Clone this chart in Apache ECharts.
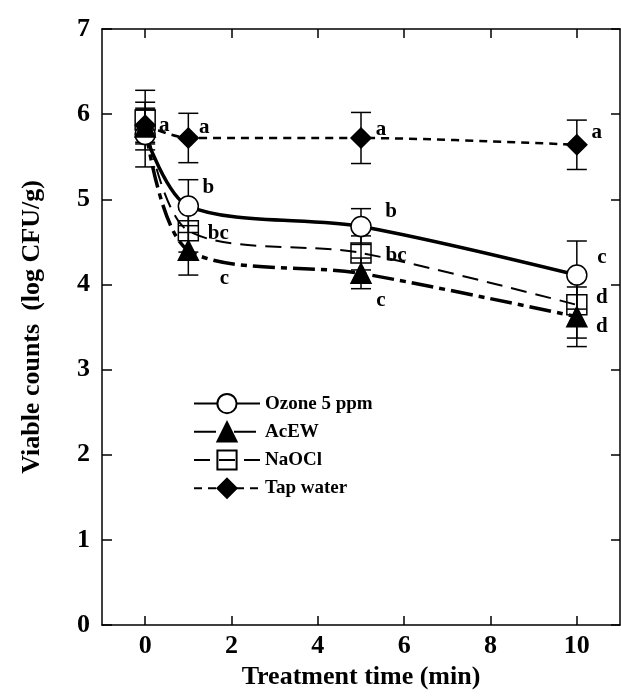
<!DOCTYPE html>
<html>
<head>
<meta charset="utf-8">
<script src="https://cdn.jsdelivr.net/npm/echarts@6/dist/echarts.min.js"></script>
<style>
html, body { margin: 0; padding: 0; background: #fff; }
#chart { width: 621px; height: 697px; }
</style>
</head>
<body>
<div id="chart"></div>
<script>
// treatment time (min) and axis ticks
const times = [0, 1, 5, 10]
const xTicks = [0, 2, 4, 6, 8, 10]
const yTicks = [0, 1, 2, 3, 4, 5, 6, 7]

// viable counts (log CFU/g), error bars, letters
const ozone = [5.76, 4.92, 4.68, 4.11]
const ozoneErr = [0.38, 0.31, 0.21, 0.40]
const ozoneLetters = ['', 'b', 'b', 'c']

const acew = [5.85, 4.40, 4.13, 3.62]
const acewErr = [0.20, 0.29, 0.18, 0.35]
const acewLetters = ['', 'c', 'c', 'd']

const naocl = [5.93, 4.63, 4.37, 3.76]
const naoclErr = [0.35, 0.25, 0.20, 0.39]
const naoclLetters = ['', 'bc', 'bc', 'd']

const tap = [5.87, 5.72, 5.72, 5.64]
const tapErr = [0.20, 0.29, 0.30, 0.29]
const tapLetters = ['a', 'a', 'a', 'a']

// label offsets in px (style only)
const ozoneOff = [[0, 0], [20, -19], [30, -15], [25, -17]]
const acewOff = [[0, 0], [36, 28], [20, 27], [25, 10]]
const naoclOff = [[0, 0], [30, 3], [35, 3], [25, -7]]
const tapOff = [[19, 0], [16, -10], [20, -8], [20, -12]]

const serif = 'Liberation Serif'

function lineSeries (name, values, letters, offsets, symbol, fill, lineStyle) {
  return {
    name: name,
    type: 'line',
    smooth: 0.3,
    symbol: symbol,
    symbolSize: 20,
    itemStyle: { color: fill, borderColor: '#000', borderWidth: 1.5 },
    lineStyle: Object.assign({ color: '#000' }, lineStyle),
    z: 3,
    data: times.map((t, i) => ({
      value: [t, values[i]],
      label: {
        show: letters[i] !== '',
        formatter: letters[i],
        position: 'inside',
        offset: offsets[i],
        color: '#000',
        fontFamily: serif,
        fontWeight: 'bold',
        fontSize: 21
      }
    }))
  }
}

const errData = []
const groups = [[ozone, ozoneErr], [acew, acewErr], [naocl, naoclErr], [tap, tapErr]]
for (const [vals, errs] of groups) {
  times.forEach((t, i) => errData.push([t, vals[i] - errs[i], vals[i] + errs[i]]))
}

const axisLine = { onZero: false, lineStyle: { color: '#000', width: 1.5 } }
const tickLine = { color: '#000', width: 1.5 }
const titleFont = { fontFamily: serif, fontWeight: 'bold', fontSize: 26, color: '#000' }

const chart = echarts.init(document.getElementById('chart'))
chart.setOption({
  backgroundColor: '#fff',
  animation: false,
  grid: { left: 102, top: 29, right: 1, bottom: 72 },
  legend: {
    data: ['Ozone 5 ppm', 'AcEW', 'NaOCl', 'Tap water'],
    orient: 'vertical',
    left: 188,
    top: 388,
    itemWidth: 66,
    itemHeight: 24,
    itemGap: 7,
    textStyle: { fontFamily: serif, fontWeight: 'bold', fontSize: 19, color: '#000' }
  },
  xAxis: [
    {
      type: 'value',
      min: -1,
      max: 11,
      name: 'Treatment time (min)',
      nameLocation: 'middle',
      nameGap: 33,
      nameTextStyle: titleFont,
      axisLine: axisLine,
      axisTick: { inside: true, length: 9, customValues: xTicks, lineStyle: tickLine },
      axisLabel: Object.assign({ customValues: xTicks, margin: 8 }, titleFont),
      splitLine: { show: false }
    },
    {
      type: 'value',
      position: 'top',
      min: -1,
      max: 11,
      axisLine: axisLine,
      axisTick: { inside: true, length: 9, customValues: xTicks, lineStyle: tickLine },
      axisLabel: { show: false },
      splitLine: { show: false }
    }
  ],
  yAxis: [
    {
      type: 'value',
      min: 0,
      max: 7,
      interval: 1,
      name: 'Viable counts  (log CFU/g)',
      nameLocation: 'middle',
      nameGap: 57,
      nameTextStyle: titleFont,
      axisLine: axisLine,
      axisTick: { inside: true, length: 10, customValues: yTicks, lineStyle: tickLine },
      axisLabel: Object.assign({ customValues: yTicks, margin: 12 }, titleFont),
      splitLine: { show: false }
    },
    {
      type: 'value',
      position: 'right',
      min: 0,
      max: 7,
      interval: 1,
      axisLine: axisLine,
      axisTick: { inside: true, length: 9, customValues: yTicks, lineStyle: tickLine },
      axisLabel: { show: false },
      splitLine: { show: false }
    }
  ],
  series: [
    {
      name: 'err',
      type: 'custom',
      z: 1,
      encode: { x: 0, y: [1, 2] },
      renderItem: function (params, api) {
        const x = api.value(0)
        const top = api.coord([x, api.value(2)])
        const bot = api.coord([x, api.value(1)])
        const w = 10
        const st = { stroke: '#000', lineWidth: 1.5 }
        return {
          type: 'group',
          children: [
            { type: 'line', shape: { x1: top[0], y1: top[1], x2: bot[0], y2: bot[1] }, style: st },
            { type: 'line', shape: { x1: top[0] - w, y1: top[1], x2: top[0] + w, y2: top[1] }, style: st },
            { type: 'line', shape: { x1: bot[0] - w, y1: bot[1], x2: bot[0] + w, y2: bot[1] }, style: st }
          ]
        }
      },
      data: errData
    },
    lineSeries('Ozone 5 ppm', ozone, ozoneLetters, ozoneOff, 'circle', '#fff', { width: 3.5, type: 'solid' }),
    lineSeries('AcEW', acew, acewLetters, acewOff, 'triangle', '#000', { width: 3.5, type: [22, 6, 6, 6] }),
    lineSeries('NaOCl', naocl, naoclLetters, naoclOff, 'rect', 'rgba(0,0,0,0)', { width: 2, type: [16, 9] }),
    lineSeries('Tap water', tap, tapLetters, tapOff, 'diamond', '#000', { width: 2.5, type: [8, 6] })
  ]
})
</script>
</body>
</html>
